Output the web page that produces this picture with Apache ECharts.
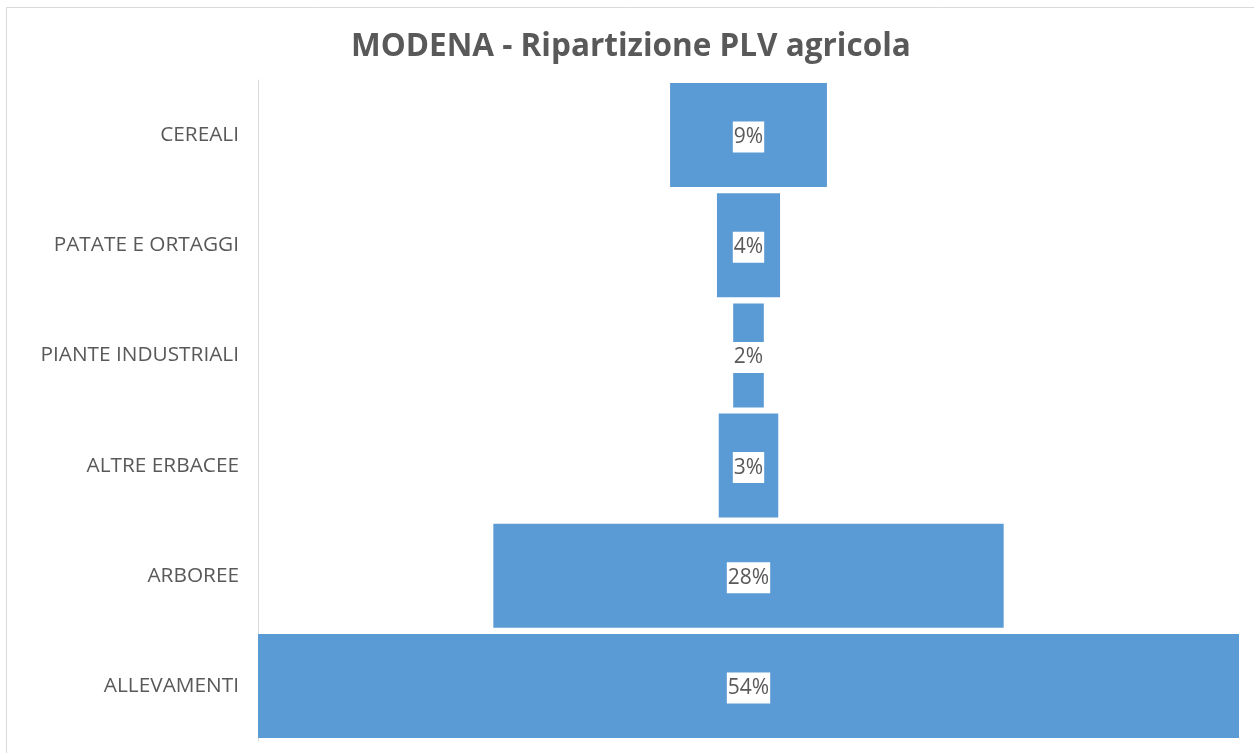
<!DOCTYPE html>
<html>
<head>
<meta charset="utf-8">
<style>
  html, body { margin: 0; padding: 0; background: #ffffff; }
  #chart { width: 1254px; height: 753px; }
</style>
<script src="https://cdn.jsdelivr.net/npm/echarts@6/dist/echarts.min.js"></script>
</head>
<body>
<div id="chart"></div>
<script>
const titleText = 'MODENA - Ripartizione PLV agricola';
const categories = ['CEREALI', 'PATATE E ORTAGGI', 'PIANTE INDUSTRIALI', 'ALTRE ERBACEE', 'ARBOREE', 'ALLEVAMENTI'];
const shares = [8.7, 3.5, 1.7, 3.3, 28.3, 54.4];

const maxShare = Math.max.apply(null, shares);
const offsets = shares.map(v => (maxShare - v) / 2);

const chart = echarts.init(document.getElementById('chart'), null, { renderer: 'canvas' });
chart.setOption({
  animation: false,
  backgroundColor: '#ffffff',
  title: {
    text: titleText,
    left: 346,
    top: 26,
    textStyle: { fontFamily: 'Open Sans', fontWeight: 'bold', fontSize: 31.5, color: '#595959' }
  },
  graphic: [{
    type: 'rect',
    shape: { x: 6.5, y: 7.5, width: 1260, height: 760 },
    style: { fill: 'none', stroke: '#d9d9d9', lineWidth: 1 },
    silent: true
  }],
  grid: { left: 258, right: 15, top: 80, bottom: 12, containLabel: false },
  xAxis: {
    type: 'value', min: 0, max: maxShare, show: false
  },
  yAxis: {
    type: 'category',
    inverse: true,
    data: categories,
    axisLine: { show: true, lineStyle: { color: '#d9d9d9', width: 1 } },
    axisTick: { show: false },
    axisLabel: { margin: 19, fontFamily: 'Open Sans', fontSize: 20.8, color: '#595959', padding: [8, 0, 0, 0] }
  },
  series: [
    {
      type: 'bar', stack: 'funnel', data: offsets, silent: true,
      itemStyle: { color: 'rgba(0,0,0,0)' }, barCategoryGap: '5.6%'
    },
    {
      type: 'bar', stack: 'funnel', data: shares, barCategoryGap: '5.6%',
      itemStyle: { color: '#5b9bd5' },
      label: {
        show: true, position: 'inside', offset: [0, 2],
        formatter: p => Math.round(p.value) + '%',
        fontFamily: 'Open Sans', fontSize: 21, color: '#595959',
        backgroundColor: '#ffffff', padding: [1, 1, 1, 1], lineHeight: 29
      }
    }
  ]
});
</script>
</body>
</html>
